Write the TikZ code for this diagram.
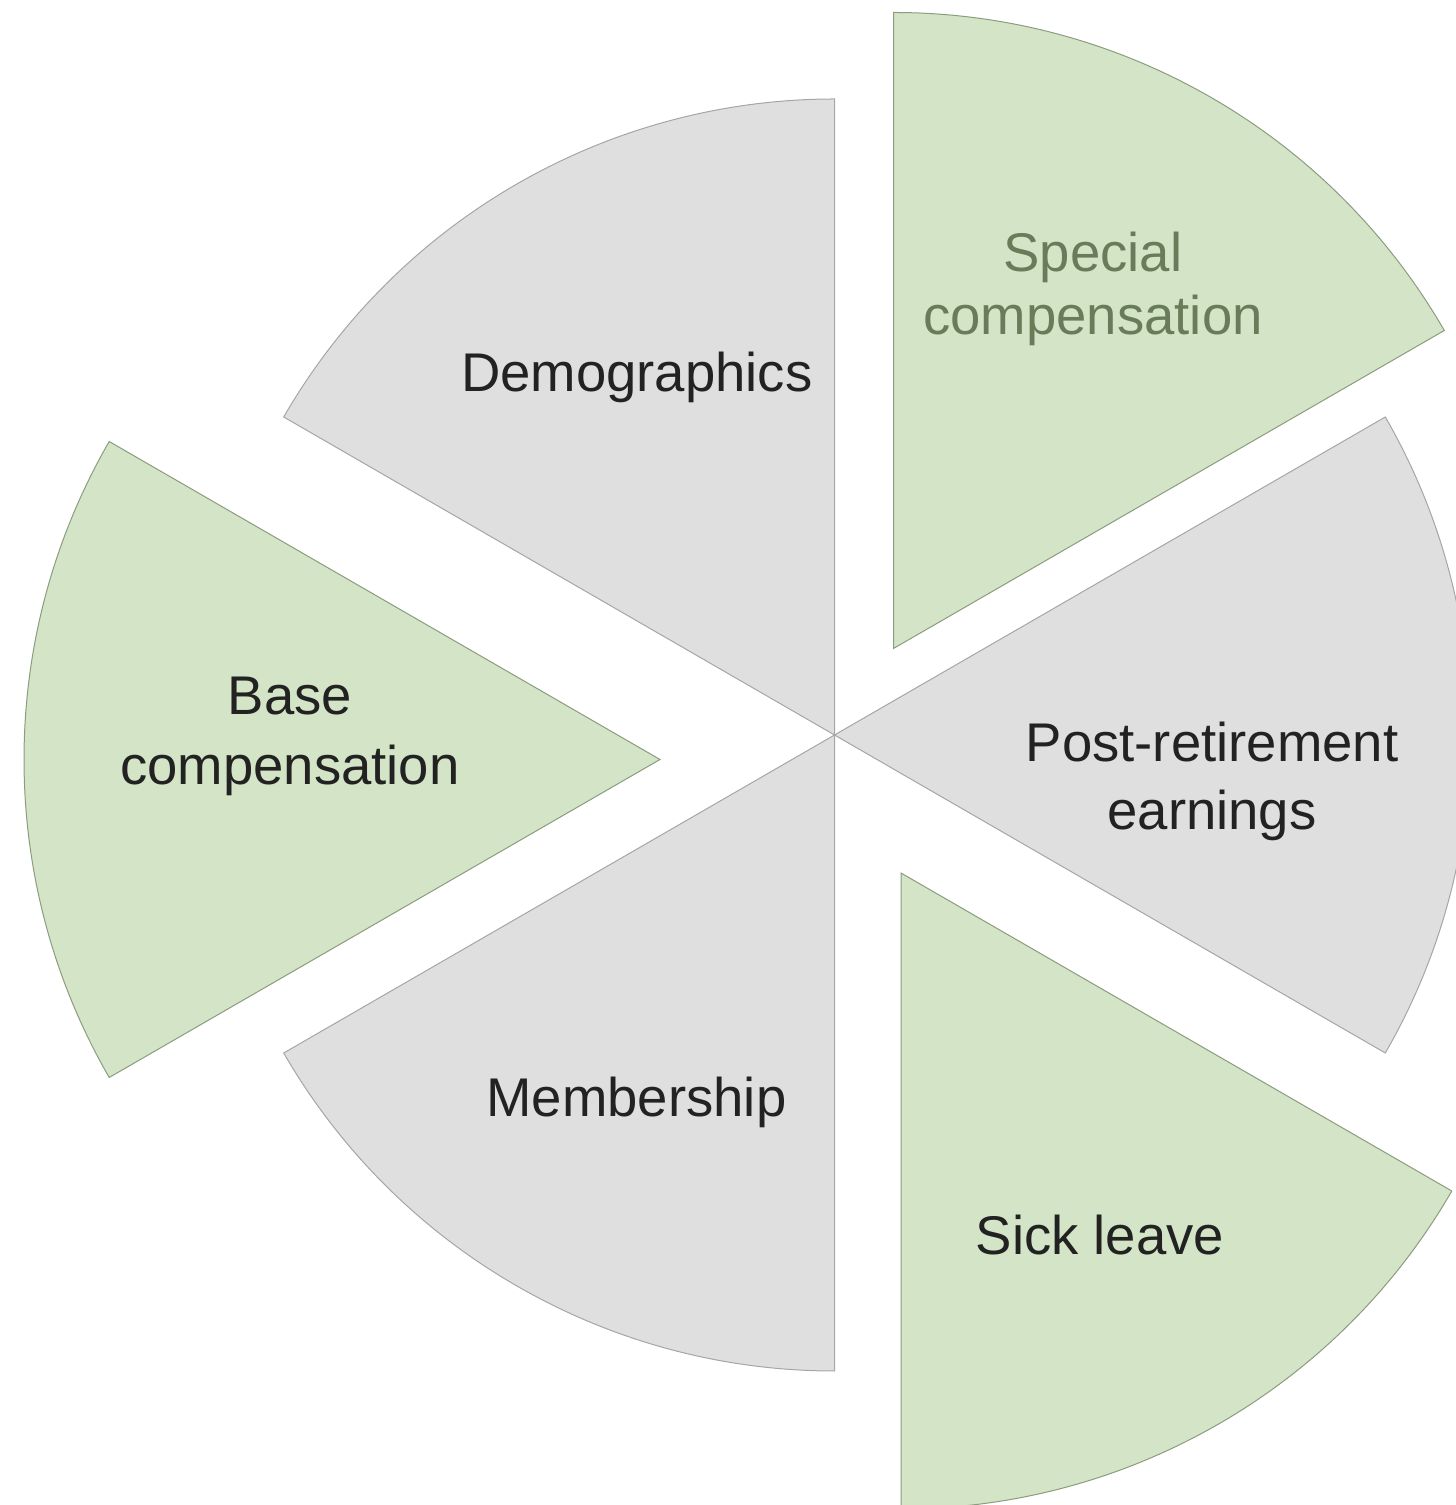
\documentclass[tikz,border=0pt]{standalone}
\usepackage{fontspec}
\setmainfont{Liberation Sans}
\usepackage{array}
\definecolor{slgray}{HTML}{E0DFE0}
\definecolor{slgreen}{HTML}{D3E5C6}
\definecolor{edgegray}{HTML}{A6A6A6}
\definecolor{edgegreen}{HTML}{8C9C7E}
\definecolor{txtdark}{HTML}{222222}
\definecolor{txtgreen}{HTML}{687C5A}
\tikzset{
  grayslice/.style={fill=slgray, draw=edgegray, line width=0.5pt, line join=miter},
  greenslice/.style={fill=slgreen, draw=edgegreen, line width=0.5pt, line join=miter},
  lbl/.style={anchor=base, inner sep=0pt, text=txtdark,
    font=\fontsize{27.25pt}{34pt}\selectfont},
}
\newcommand{\twolines}[3]{\begin{tabular}[t]{@{}c@{}}#1\\[#3]#2\end{tabular}}
\begin{document}
\begin{tikzpicture}[x=0.5pt, y=0.5pt]
\useasboundingbox (0,0) rectangle (1456,1505);
\clip (0,0) rectangle (1456,1505);
% centres (image y flipped: tikz y = 1505 - image y)
\coordinate (c) at (834.5,770);
\coordinate (cspec) at (893.5,856.5);
\coordinate (csick) at (901,632);
\coordinate (cbase) at (660,745.5);
% slices
\path[grayslice] (c) -- ++(90:636) arc[start angle=90, end angle=150, radius=636] -- cycle;
\path[grayslice] (c) -- ++(-30:636) arc[start angle=-30, end angle=30, radius=636] -- cycle;
\path[grayslice] (c) -- ++(210:636) arc[start angle=210, end angle=270, radius=636] -- cycle;
\path[greenslice] (cspec) -- ++(30:636) arc[start angle=30, end angle=90, radius=636] -- cycle;
\path[greenslice] (csick) -- ++(-90:636) arc[start angle=-90, end angle=-30, radius=636] -- cycle;
\path[greenslice] (cbase) -- ++(150:636) arc[start angle=150, end angle=210, radius=636] -- cycle;
% labels
\node[lbl] (demo) at (636.7,1113.3) {Demographics};
\node[lbl, text=txtgreen] (spec) at (1093,1233.3) {\twolines{Special}{compensation}{-2.5pt}};
\node[lbl] (post) at (1212,743.3) {\twolines{Post-retirement}{earnings}{0pt}};
\node[lbl] (base) at (290,790) {\twolines{Base}{compensation}{1pt}};
\node[lbl] (memb) at (636.5,388) {Membership};
\node[lbl] (sick) at (1100,250) {Sick leave};
\end{tikzpicture}
\end{document}
